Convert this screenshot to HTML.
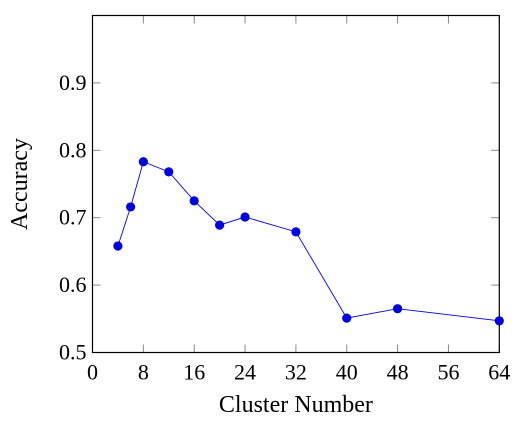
<!DOCTYPE html>
<html><head><meta charset="utf-8"><style>
html,body{margin:0;padding:0;background:#fff;width:516px;height:423px;overflow:hidden}
svg text{font-family:"Liberation Serif",serif;fill:#000}
</style></head><body>
<svg id="chart" width="516" height="423"></svg>
<script>
const categories=[4,6,8,12,16,20,24,32,40,48,64];
const accuracy=[0.658,0.716,0.783,0.768,0.725,0.689,0.701,0.679,0.551,0.565,0.547];
const xTicks=[0,8,16,24,32,40,48,56,64];
const yTicks=[0.5,0.6,0.7,0.8,0.9];
const yTickLabels=["0.5","0.6","0.7","0.8","0.9"];
const svg=document.getElementById('chart');
const NS='http://www.w3.org/2000/svg';
const L=92.5,R=499.3,T=15.5,B=352.5;
function X(v){return L+(v-0)/(64-0)*(R-L);}
function Y(v){return B-(v-0.5)/(1.0-0.5)*(B-T);}
function mk(tag,attrs){const e=document.createElementNS(NS,tag);for(const k in attrs)e.setAttribute(k,attrs[k]);svg.appendChild(e);return e;}
xTicks.forEach(t=>{
  let l=mk('line',{x1:X(t),x2:X(t),y1:B,y2:B-8,stroke:'#888','stroke-width':1});
  
  
  let l2=mk('line',{x1:X(t),x2:X(t),y1:T,y2:T+8,stroke:'#888','stroke-width':1});
  
  
  let tx=mk('text',{x:X(t),y:B+27,'text-anchor':'middle','font-size':22});
  tx.textContent=t;
  
  
});
yTicks.forEach((t,i)=>{
  let l=mk('line',{x1:L,x2:L+8,y1:Y(t),y2:Y(t),stroke:'#888','stroke-width':1});
  
  
  let l2=mk('line',{x1:R,x2:R-8,y1:Y(t),y2:Y(t),stroke:'#888','stroke-width':1});
  
  
  let tx=mk('text',{x:L-6,y:Y(t)+7,'text-anchor':'end','font-size':22});
  tx.textContent=yTickLabels[i];
  
  
});
const frame=mk('rect',{x:L,y:T,width:R-L,height:B-T,fill:'none',stroke:'#000','stroke-width':1.2});


const line=mk('polyline',{points:categories.map((c,i)=>X(c)+','+Y(accuracy[i])).join(' '),fill:'none',stroke:'#0000ff','stroke-width':0.9});


categories.forEach((c,i)=>{
  let p=mk('circle',{cx:X(c),cy:Y(accuracy[i]),r:4.6,fill:'#0000e0'});
  
  
});
const xl=mk('text',{x:(L+R)/2,y:412,'text-anchor':'middle','font-size':24});
xl.textContent='Cluster Number';


const yl=mk('text',{x:0,y:0,'text-anchor':'middle','font-size':24,transform:'translate(27,'+((T+B)/2)+') rotate(-90)'});
yl.textContent='Accuracy';


</script>
</body></html>
